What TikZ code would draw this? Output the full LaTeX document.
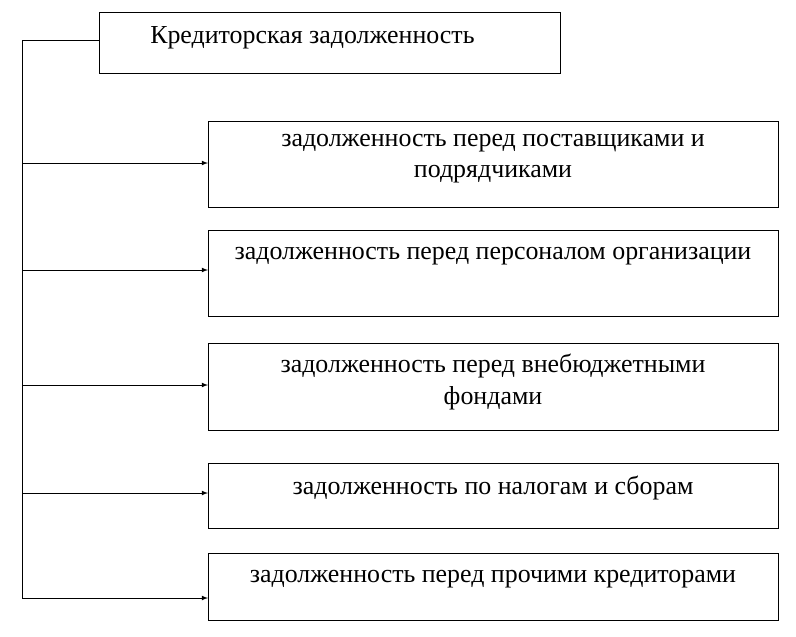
\documentclass[tikz,border=0pt]{standalone}
\usepackage{fontspec}
\setmainfont{Liberation Serif}
\begin{document}
\begin{tikzpicture}[x=0.02646cm,y=-0.02646cm,
  item/.style={draw, semithick, minimum width=570*0.02646cm, anchor=north west, inner sep=0pt},
  label/.style={align=center, inner sep=0pt, font=\fontsize{19.5}{23.5}\selectfont},
  link/.style={semithick, -latex}]
  \useasboundingbox (0,0) rectangle (796,636);
  \node[item, minimum width=461*0.02646cm, minimum height=61*0.02646cm] (top) at (99,12) {};
  \node[label, anchor=west] (toptext) at (150,38) {Кредиторская задолженность};
  \node[item, minimum height=86*0.02646cm] (b1) at (208,121) {};
  \node[item, minimum height=86*0.02646cm] (b2) at (208,230) {};
  \node[item, minimum height=87*0.02646cm] (b3) at (208,343) {};
  \node[item, minimum height=65*0.02646cm] (b4) at (208,463) {};
  \node[item, minimum height=67*0.02646cm] (b5) at (208,553) {};
  \node[label] (t1) at (493,159) {задолженность перед поставщиками и\\подрядчиками};
  \node[label] (t2) at (493,256) {задолженность перед персоналом организации};
  \node[label] (t3) at (493,382) {задолженность перед внебюджетными\\фондами};
  \node[label] (t4) at (493,488) {задолженность по налогам и сборам};
  \node[label] (t5) at (493,579) {задолженность перед прочими кредиторами};
  \coordinate (s) at (22,40);
  \draw[semithick] (top.west |- s) -- (s) -- (22,598);
  \foreach \b/\y in {b1/163,b2/270,b3/385,b4/493,b5/598}
    \draw[link] (22,\y) -- (\b.west |- 0,\y);
\end{tikzpicture}
\end{document}
